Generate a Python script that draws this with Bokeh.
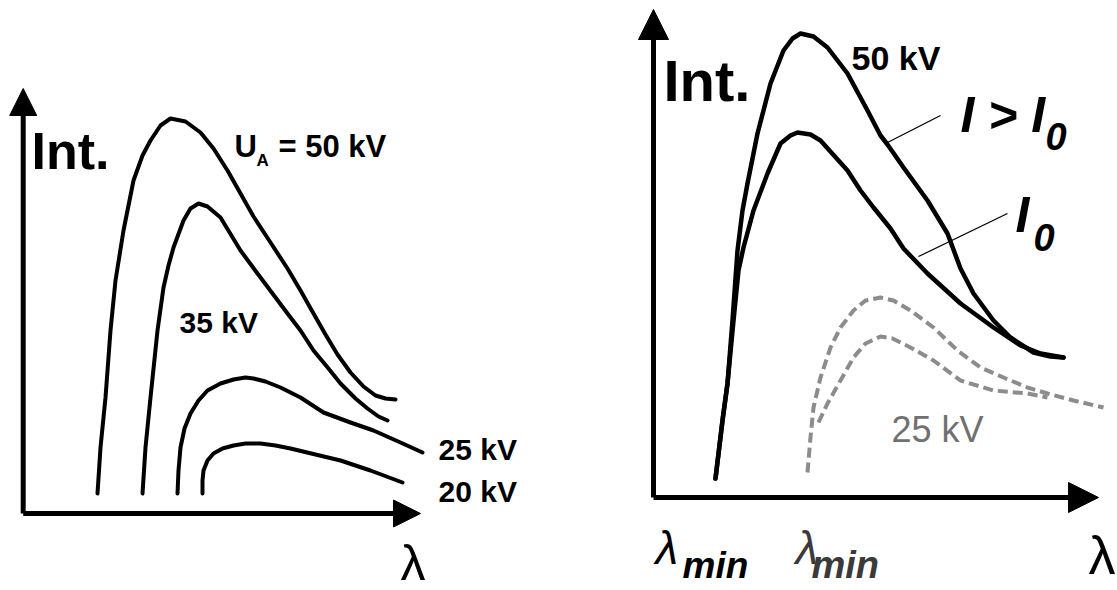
from bokeh.plotting import figure
from bokeh.models import Range1d, Arrow, NormalHead
from bokeh.core.properties import value
from bokeh.embed import file_html
from bokeh.resources import INLINE

# ---------------- data (schematic coordinates) ----------------
# Left panel: spectra for different anode voltages
l50_x = [97, 100, 105, 110, 115, 123, 133, 142, 150, 160, 170, 185, 200, 213, 227, 240, 253, 270, 287, 300, 313, 325, 337, 350, 363, 375, 385, 395]
l50_y = [493, 447, 397, 330, 280, 230, 180, 155, 140, 125, 118, 121, 132, 148, 170, 193, 216, 242, 268, 290, 313, 334, 354, 372, 386, 395, 398, 399]
l35_x = [142, 145, 150, 157, 163, 168, 173, 183, 190, 198, 207, 220, 240, 257, 272, 287, 300, 313, 328, 340, 355, 367, 378, 387]
l35_y = [493, 447, 397, 330, 287, 265, 247, 220, 208, 203, 206, 217, 250, 273, 293, 313, 330, 350, 368, 383, 398, 408, 416, 420]
l25_x = [177, 178, 180, 184, 190, 198, 207, 220, 233, 245, 253, 265, 280, 300, 323, 350, 373, 400, 422]
l25_y = [493, 470, 447, 428, 413, 400, 390, 383, 379, 377, 378, 381, 387, 397, 412, 422, 430, 442, 452]
l20_x = [202, 202, 203, 207, 213, 222, 233, 245, 260, 275, 290, 315, 340, 370, 402]
l20_y = [493, 480, 470, 460, 453, 448, 445, 443, 443, 445, 448, 454, 460, 470, 482]

# Right panel: 50 kV at two currents, 25 kV (grey, dashed)
rI_x = [715, 722, 727, 732, 737, 742, 747, 757, 770, 783, 792, 800, 813, 827, 847, 867, 880, 887, 903, 927, 947, 960, 973, 993, 1010, 1033, 1050, 1063]
rI_y = [478, 420, 383, 320, 250, 210, 183, 133, 83, 50, 38, 33, 36, 47, 73, 110, 135, 144, 167, 200, 233, 268, 293, 320, 337, 352, 356, 357]
rI0_x = [715, 722, 727, 733, 738, 743, 753, 767, 780, 790, 797, 810, 820, 847, 860, 873, 890, 903, 927, 960, 993, 1020, 1040, 1063]
rI0_y = [478, 420, 383, 320, 270, 247, 210, 173, 143, 135, 132, 134, 140, 170, 190, 207, 228, 248, 273, 303, 327, 345, 353, 357]
g1_x = [807, 810, 813, 820, 830, 840, 853, 865, 880, 893, 910, 933, 957, 980, 1003, 1027, 1047, 1073, 1103]
g1_y = [472, 437, 407, 377, 347, 327, 310, 300, 297, 300, 310, 327, 350, 367, 377, 387, 393, 400, 407]
g2_x = [818, 827, 840, 853, 865, 880, 892, 910, 933, 960, 993, 1027, 1047]
g2_y = [422, 403, 380, 357, 343, 336, 338, 347, 360, 380, 390, 393, 397]

# ---------------- figure ----------------
p = figure(width=1117, height=590, output_backend="svg", toolbar_location=None,
           x_axis_type=None, y_axis_type=None, min_border=0,
           x_range=Range1d(0, 1117), y_range=Range1d(590, 0))
p.outline_line_color = None
p.grid.visible = False
p.background_fill_color = "white"
p.border_fill_color = "white"

FONT = value("Liberation Sans")

# axes with arrowheads
def axis_arrow(x0, y0, x1, y1, size):
    p.add_layout(Arrow(x_start=x0, y_start=y0, x_end=x1, y_end=y1, line_width=5,
                       line_color="black",
                       end=NormalHead(size=size, fill_color="black", line_color="black", line_width=1)))

axis_arrow(22.7, 513, 22.7, 88, 27)
axis_arrow(22.7, 513, 420, 513, 27)
axis_arrow(653, 497, 653, 9, 30)
axis_arrow(653, 497, 1098, 497, 30)

# curves
for xs, ys in [(l50_x, l50_y), (l35_x, l35_y), (l25_x, l25_y), (l20_x, l20_y)]:
    p.line(xs, ys, line_width=4, line_color="black", line_join="round", line_cap="round")
for xs, ys in [(rI_x, rI_y), (rI0_x, rI0_y)]:
    p.line(xs, ys, line_width=4.5, line_color="black", line_join="round", line_cap="round")
for xs, ys in [(g1_x, g1_y), (g2_x, g2_y)]:
    p.line(xs, ys, line_width=4, line_color="#8c8c8c", line_dash="10 5", line_join="round")

# leader lines
p.segment(x0=[887, 918], y0=[142, 256], x1=[940, 1007], y1=[115, 213], line_width=1.3, line_color="black")

def label(x, y, t, size, style="bold", color="black"):
    # y is the wanted baseline; the renderer places text ~0.38 em lower, so compensate
    y_adj = y - 0.38 * size
    p.text(x=[x], y=[y_adj], text=[t], text_font=FONT, text_font_size=value(f"{size}px"),
           text_font_style=style, text_color=color, text_baseline="alphabetic", text_align="left")

# left panel texts
label(31, 170, "Int.", 52)
label(234, 158, "U", 31)
label(256, 166, "A", 17)
label(278, 158, "= 50 kV", 31)
label(179, 333, "35 kV", 30)
label(438, 460, "25 kV", 30)
label(438, 502, "20 kV", 30)
label(400, 581, "λ", 50, style="normal")

# right panel texts
label(663, 102, "Int.", 58)
label(851, 70, "50 kV", 34)
label(960, 133, "I > I", 50, style="bold italic")
label(1045, 150, "0", 38, style="bold italic")
label(1015, 233, "I", 50, style="bold italic")
label(1033, 251, "0", 38, style="bold italic")
label(891, 443, "25 kV", 36, style="normal", color="#707070")
label(655, 565, "λ", 46, style="italic")
label(682, 579, "min", 37, style="bold italic")
label(795, 565, "λ", 46, style="italic", color="#3a3a3a")
label(811, 579, "min", 38, style="bold italic", color="#3a3a3a")
label(1088, 575, "λ", 54, style="normal")

open("out.html", "w").write(file_html(p, INLINE))
